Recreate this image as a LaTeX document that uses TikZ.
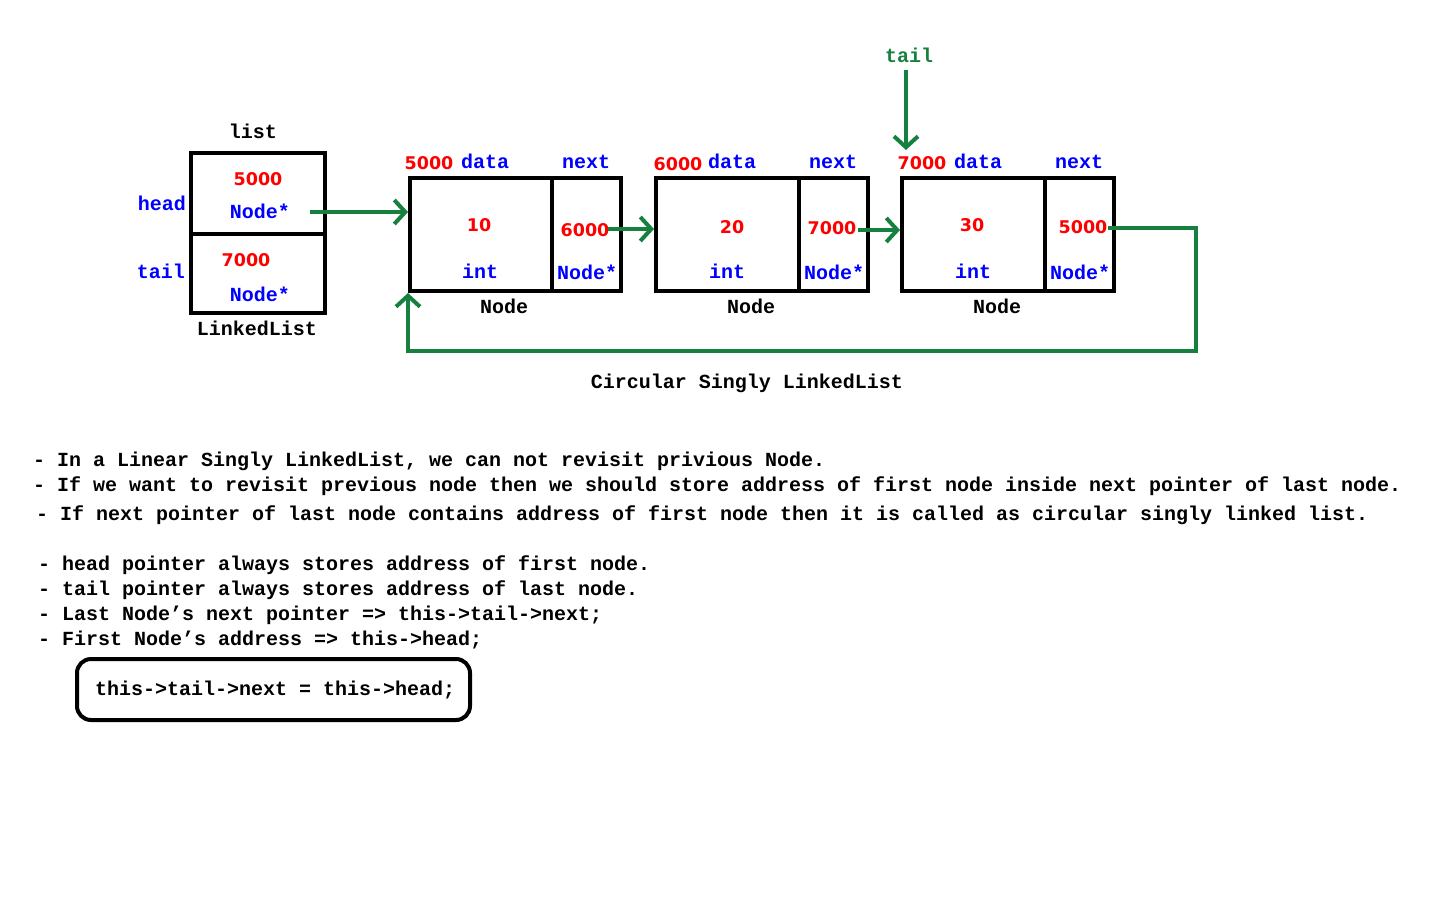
\documentclass[tikz,border=0pt]{standalone}
\usepackage{fontspec}
\setmonofont{Liberation Mono}
\newfontfamily\numfont{DejaVu Sans}
\usetikzlibrary{arrows.meta}
\definecolor{lgreen}{RGB}{22,128,62}
\definecolor{lred}{RGB}{255,0,0}
\definecolor{lblue}{RGB}{0,0,255}
\begin{document}
\begin{tikzpicture}[x=1pt,y=-1pt,
 mono/.style={font=\fontsize{20}{24}\selectfont\ttfamily\bfseries, inner sep=0pt, anchor=base},
 num/.style={font=\fontsize{17.5}{21}\selectfont\numfont\bfseries, text=lred, inner sep=0pt, anchor=base},
 blu/.style={mono, text=lblue},
 blk/.style={mono, text=black},
 grn/.style={mono, text=lgreen},
 line/.style={mono, text=black, anchor=base west},
 cell/.style={draw=black, line width=4pt, inner sep=0pt, minimum height=113pt},
 ptr/.style={draw=lgreen, line width=4pt, -{Straight Barb[length=11pt,width=24pt,line width=4pt]}},
]
\useasboundingbox (0,0) rectangle (1440,900);

% LinkedList object
\node[draw=black, line width=4pt, inner sep=0pt, minimum width=134pt, minimum height=81pt] (llhead) at (258,193.5) {};
\node[draw=black, line width=4pt, inner sep=0pt, minimum width=134pt, minimum height=79pt] (lltail) at (258,273.5) {};
\node[blk] (listlbl) at (253,138) {list};
\node[blu] (headlbl) at (162,210) {head};
\node[blu] (taillbl) at (161,278) {tail};
\node[num] (llh5000) at (258,185) {5000};
\node[blu] (llhtype) at (260,218) {Node*};
\node[num] (llt7000) at (246,266) {7000};
\node[blu] (llttype) at (260,301) {Node*};
\node[blk] (lllbl) at (257,335) {LinkedList};

% Node 1
\node[cell, minimum width=142pt] (n1data) at (481,234.5) {};
\node[cell, minimum width=69pt] (n1next) at (586.5,234.5) {};
\node[num] (n1addr) at (429,169) {5000};
\node[blu] (n1dl) at (485,168) {data};
\node[blu] (n1nl) at (586,168) {next};
\node[num] (n1val) at (479,231) {10};
\node[blu] (n1int) at (480,278) {int};
\node[num] (n1ptr) at (585,236) {6000};
\node[blu] (n1pt) at (587,279) {Node*};
\node[blk] (n1lbl) at (504,313) {Node};

% Node 2
\node[cell, minimum width=143pt] (n2data) at (727.5,234.5) {};
\node[cell, minimum width=69pt] (n2next) at (833.5,234.5) {};
\node[num] (n2addr) at (678,170) {6000};
\node[blu] (n2dl) at (732,168) {data};
\node[blu] (n2nl) at (833,168) {next};
\node[num] (n2val) at (732,233) {20};
\node[blu] (n2int) at (727,278) {int};
\node[num] (n2ptr) at (832,234) {7000};
\node[blu] (n2pt) at (834,279) {Node*};
\node[blk] (n2lbl) at (751,313) {Node};

% Node 3
\node[cell, minimum width=143pt] (n3data) at (973.5,234.5) {};
\node[cell, minimum width=69pt] (n3next) at (1079.5,234.5) {};
\node[num] (n3addr) at (922,169) {7000};
\node[blu] (n3dl) at (978,168) {data};
\node[blu] (n3nl) at (1079,168) {next};
\node[num] (n3val) at (972,231) {30};
\node[blu] (n3int) at (973,278) {int};
\node[num] (n3ptr) at (1083,233) {5000};
\node[blu] (n3pt) at (1080,279) {Node*};
\node[blk] (n3lbl) at (997,313) {Node};

% tail pointer label
\node[grn] (tailtop) at (909,62) {tail};

% connectors
\coordinate (hs) at (310,212);
\draw[ptr] (hs) -- (hs -| n1data.west);
\coordinate (p1) at (608,229);
\draw[ptr] (p1) -- (p1 -| n2data.west);
\coordinate (p2) at (858,230);
\draw[ptr] (p2) -- (p2 -| n3data.west);
\coordinate (ts) at (906,70);
\coordinate (te) at (906,150);
\draw[ptr] (ts) -- (te);
\coordinate (l5) at (1108,228);
\coordinate (lc) at (1196,351);
\draw[ptr] (l5) -| (lc) -| (n1data.south west);

\node[blk] (title) at (747,388) {Circular Singly LinkedList};

% notes
\node[line] (t1) at (33,466) {- In a Linear Singly LinkedList, we can not revisit privious Node.};
\node[line] (t2) at (33,491) {- If we want to revisit previous node then we should store address of first node inside next pointer of last node.};
\node[line] (t3) at (36,520) {- If next pointer of last node contains address of first node then it is called as circular singly linked list.};
\node[line] (t4) at (38,570) {- head pointer always stores address of first node.};
\node[line] (t5) at (38,595) {- tail pointer always stores address of last node.};
\node[line] (t6) at (38,620) {- Last Node’s next pointer => this->tail->next;};
\node[line] (t7) at (38,645) {- First Node’s address => this->head;};

\node[draw=black, line width=4pt, rounded corners=14pt, inner sep=0pt, minimum width=393pt, minimum height=61pt] (codebox) at (273.5,689.5) {};
\node[line] (code) at (95,695) {this->tail->next = this->head;};
\end{tikzpicture}
\end{document}
